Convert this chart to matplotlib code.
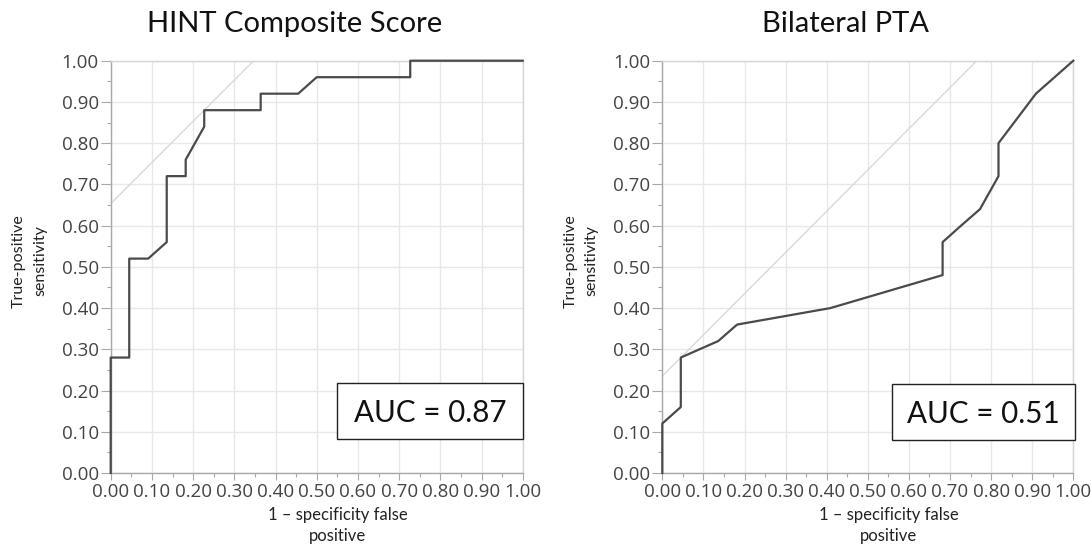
import matplotlib
matplotlib.use("Agg")
import matplotlib.pyplot as plt
from matplotlib.patches import Rectangle
from matplotlib.ticker import MultipleLocator, FormatStrFormatter

# ---- data ----
hint_fpr = [0.0, 0.0, 0.045, 0.045, 0.091, 0.136, 0.136, 0.182, 0.182, 0.227, 0.227,
            0.364, 0.364, 0.455, 0.5, 0.727, 0.727, 1.0]
hint_tpr = [0.0, 0.28, 0.28, 0.52, 0.52, 0.56, 0.72, 0.72, 0.76, 0.84, 0.88,
            0.88, 0.92, 0.92, 0.96, 0.96, 1.0, 1.0]
hint_ref_intercept = 0.653

pta_fpr = [0.0, 0.0, 0.045, 0.045, 0.136, 0.182, 0.409, 0.682, 0.682, 0.727, 0.773,
           0.818, 0.818, 0.909, 1.0]
pta_tpr = [0.0, 0.12, 0.16, 0.28, 0.32, 0.36, 0.40, 0.48, 0.56, 0.60, 0.64,
           0.72, 0.80, 0.92, 1.0]
pta_ref_intercept = 0.235

titles = ["HINT Composite Score", "Bilateral PTA"]
auc_labels = ["AUC = 0.87", "AUC = 0.51"]
xlabel_lines = ["1 \u2013 specificity false", "positive"]
ylabel_lines = ["True-positive", "sensitivity"]

W, H = 1092, 551
fig = plt.figure(figsize=(W / 100, H / 100), dpi=100)

def fx(px):
    return px / W

def fy(py):
    return 1 - py / H

axes_px = [(110.7, 522.7), (662.3, 1073.3)]
top_px, bot_px = 60.7, 473.0

curves = [(hint_fpr, hint_tpr, hint_ref_intercept), (pta_fpr, pta_tpr, pta_ref_intercept)]
box_px = [(337.0, 383.0, 522.7, 439.0), (891.7, 384.0, 1075.0, 440.0)]

title_font = "Lato"
tick_font = "Open Sans"

for i, (x0, x1) in enumerate(axes_px):
    ax = fig.add_axes([fx(x0), fy(bot_px), fx(x1 - x0), (bot_px - top_px) / H])
    ax.set_xlim(0, 1)
    ax.set_ylim(0, 1)
    ax.xaxis.set_major_locator(MultipleLocator(0.1))
    ax.yaxis.set_major_locator(MultipleLocator(0.1))
    ax.xaxis.set_minor_locator(MultipleLocator(0.05))
    ax.yaxis.set_minor_locator(MultipleLocator(0.05))
    ax.xaxis.set_major_formatter(FormatStrFormatter("%.2f"))
    ax.yaxis.set_major_formatter(FormatStrFormatter("%.2f"))
    ax.grid(True, which="major", color="#e8e8e8", linewidth=1.0)
    ax.set_axisbelow(True)
    for s in ["top", "right"]:
        ax.spines[s].set_color("#d4d4d4")
        ax.spines[s].set_linewidth(1.0)
    for s in ["left", "bottom"]:
        ax.spines[s].set_color("#a8a8a8")
        ax.spines[s].set_linewidth(1.0)
    ax.tick_params(which="major", direction="out", length=7, width=0.8, color="#a8a8a8",
                   labelsize=13.5, labelcolor="#444444", pad=1.5)
    ax.tick_params(axis="x", which="major", length=5, pad=2.5)
    ax.tick_params(which="minor", direction="out", length=3, width=0.8, color="#a8a8a8")
    for lab in ax.get_xticklabels() + ax.get_yticklabels():
        lab.set_fontfamily(tick_font)

    fpr, tpr, b = curves[i]
    ax.plot([0, 1 - b], [b, 1], color="#d6d6d6", linewidth=0.9, zorder=2)
    ax.plot(fpr, tpr, color="#4a4a4a", linewidth=1.6, zorder=3, clip_on=False)

    # AUC box
    bx0, by0, bx1, by1 = box_px[i]
    ax.add_patch(Rectangle(((bx0 - x0) / (x1 - x0), (bot_px - by1) / (bot_px - top_px)),
                           (bx1 - bx0) / (x1 - x0), (by1 - by0) / (bot_px - top_px),
                           transform=ax.transAxes, facecolor="white", edgecolor="#222222",
                           linewidth=1.0, zorder=5, clip_on=False))
    fig.text(fx((bx0 + bx1) / 2), fy((by0 + by1) / 2 + 11), auc_labels[i],
             ha="center", va="baseline", fontsize=21.3, family=title_font, color="#111111",
             zorder=6)

    cx = (x0 + x1) / 2
    fig.text(fx(cx - 22), fy(31.7), titles[i], ha="center", va="baseline",
             fontsize=21, family=title_font, color="#111111")
    fig.text(fx(cx + 21), fy(520), xlabel_lines[0], ha="center", va="baseline",
             fontsize=12, family=title_font, color="#222222")
    fig.text(fx(cx + 21), fy(540.7), xlabel_lines[1], ha="center", va="baseline",
             fontsize=12, family=title_font, color="#222222")
    fig.text(fx(x0 - 91.5), fy(261), ylabel_lines[0], ha="center", va="center",
             rotation=90, fontsize=11.5, family=title_font, color="#222222")
    fig.text(fx(x0 - 70.5), fy(261), ylabel_lines[1], ha="center", va="center",
             rotation=90, fontsize=11.5, family=title_font, color="#222222")

fig.savefig("out.png", dpi=100, facecolor="white")
